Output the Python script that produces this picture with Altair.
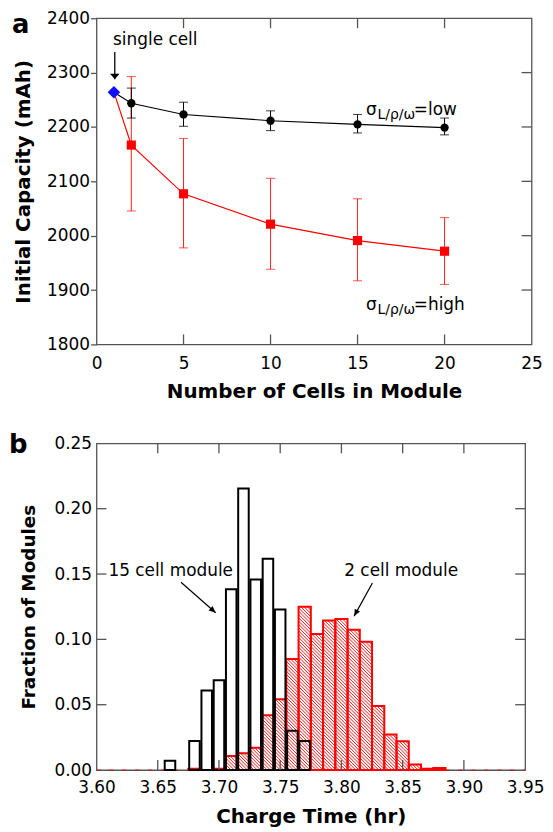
import math
import altair as alt
import numpy as np
import pandas as pd

FONT = "DejaVu Sans"
FRAME = "#555555"
RED = "#ff0000"

# ---------------- panel a : initial capacity vs number of cells ----------------
cells = [2, 5, 10, 15, 20]
low_mean = [2243.6, 2223.0, 2211.5, 2204.8, 2198.8]
low_hi = [2271.5, 2245.5, 2229.7, 2223.0, 2216.4]
low_lo = [2216.4, 2201.2, 2193.3, 2189.0, 2185.5]
high_mean = [2166.7, 2077.0, 2021.2, 1991.0, 1971.5]
high_hi = [2292.7, 2178.8, 2105.5, 2067.9, 2033.3]
high_lo = [2045.5, 1977.6, 1938.2, 1917.0, 1910.3]
single_n = [1]
single_cap = [2264.0]
xa_ticks = [0, 5, 10, 15, 20, 25]
ya_ticks = [1800, 1900, 2000, 2100, 2200, 2300, 2400]

single_text = ["single cell"]
single_text_n = [0.95]
single_text_cap = [2350.0]
single_arrow_n = [1.05]
single_arrow_from = [2338.0]
single_arrow_to = [2288.0]
sigma_n = [15.49, 15.49]
sigma_cap = [2222.6, 1864.0]
sigma_suffix = ["=low", "=high"]

# ---------------- panel b : charge time histograms ----------------
bin_w = 0.01
m15_time = [3.66, 3.68, 3.69, 3.70, 3.71, 3.72, 3.73, 3.74, 3.75, 3.76, 3.77]
m15_frac = [0.0071, 0.0223, 0.0609, 0.0688, 0.1383, 0.2155, 0.1459, 0.1617, 0.1228, 0.0300, 0.0223]
m2_time = [3.68, 3.70, 3.71, 3.72, 3.73, 3.74, 3.75, 3.76, 3.77, 3.78,
           3.79, 3.80, 3.81, 3.82, 3.83, 3.84, 3.85, 3.86, 3.87, 3.88]
m2_frac = [0.0010, 0.0010, 0.0107, 0.0129, 0.0170, 0.0419, 0.0541, 0.0850, 0.1249, 0.1041,
           0.1145, 0.1155, 0.1074, 0.0982, 0.0490, 0.0272, 0.0221, 0.0043, 0.0010, 0.0015]
xb_ticks = [3.60, 3.65, 3.70, 3.75, 3.80, 3.85, 3.90, 3.95]
yb_ticks = [0.00, 0.05, 0.10, 0.15, 0.20, 0.25]

ann_b_text = ["15 cell module", "2 cell module"]
ann_b_x = [3.6097, 3.8023]
ann_b_y = [0.1482, 0.1482]
arrow_b_x0 = [3.669, 3.8253]
arrow_b_y0 = [0.1437, 0.1432]
arrow_b_x1 = [3.6973, 3.8104]
arrow_b_y1 = [0.1204, 0.1178]

panel_letters = ["a", "b"]

WA, HA = 437.5, 328
WB, HB = 431, 328.5
TL = 10  # inward tick length

# ================= panel a =================
sx_a = alt.Scale(domain=[0, 25], nice=False, zero=False)
sy_a = alt.Scale(domain=[1800, 2400], nice=False, zero=False)

ax_x_a = alt.Axis(values=xa_ticks, format="d", ticks=False, domain=False, grid=False,
                  labelPadding=11, labelFlush=False, labelOverlap=False,
                  title="Number of Cells in Module", titlePadding=10)
ax_y_a = alt.Axis(values=ya_ticks, format="d", ticks=True, tickSize=6, tickColor=FRAME,
                  tickWidth=1.3, domain=False, grid=False, labelPadding=1,
                  labelFlush=False, labelOverlap=False,
                  title="Initial Capacity (mAh)", titlePadding=13)

low_df = pd.DataFrame({"n": single_n + cells, "cap": single_cap + low_mean})
high_df = pd.DataFrame({"n": single_n + cells, "cap": single_cap + high_mean})
err_low = pd.DataFrame({"n": cells, "lo": low_lo, "hi": low_hi})
err_high = pd.DataFrame({"n": cells, "lo": high_lo, "hi": high_hi})
single_df = pd.DataFrame({"n": single_n, "cap": single_cap})

XA = lambda f="n": alt.X(f"{f}:Q", scale=sx_a, axis=ax_x_a)
YA = lambda f="cap": alt.Y(f"{f}:Q", scale=sy_a, axis=ax_y_a)

line_high = alt.Chart(high_df).mark_line(color=RED, strokeWidth=1.2).encode(x=XA(), y=YA())
line_low = alt.Chart(low_df).mark_line(color="black", strokeWidth=1.1).encode(x=XA(), y=YA())


def errbars(df, color, width):
    rule = alt.Chart(df).mark_rule(color=color, strokeWidth=width).encode(
        x=XA(), y=YA("lo"), y2=alt.Y2("hi:Q"))
    caps = alt.Chart(df).transform_fold(["lo", "hi"], as_=["end", "val"]).mark_tick(
        color=color, orient="horizontal", size=9, thickness=1.1).encode(x=XA(), y=YA("val"))
    return [rule, caps]


pts_low = alt.Chart(pd.DataFrame({"n": cells, "cap": low_mean})).mark_point(
    shape="circle", filled=True, size=70, color="black", opacity=1).encode(x=XA(), y=YA())
pts_high = alt.Chart(pd.DataFrame({"n": cells, "cap": high_mean})).mark_point(
    shape="square", filled=True, size=85, color=RED, opacity=1).encode(x=XA(), y=YA())
pt_single = alt.Chart(single_df).mark_point(
    shape="diamond", filled=True, size=160, color="#1010ff", opacity=1).encode(x=XA(), y=YA())

# inward ticks panel a
xa_in = pd.DataFrame({"t": xa_ticks[1:-1]})
ya_in = pd.DataFrame({"t": ya_ticks[1:-1]})
ticks_a = [
    alt.Chart(xa_in).mark_rule(color=FRAME, strokeWidth=1.3).encode(
        x=XA("t"), y=alt.value(0), y2=alt.value(TL)),
    alt.Chart(xa_in).mark_rule(color=FRAME, strokeWidth=1.3).encode(
        x=XA("t"), y=alt.value(HA - TL), y2=alt.value(HA)),
    alt.Chart(ya_in).mark_rule(color=FRAME, strokeWidth=1.3).encode(
        y=YA("t"), x=alt.value(WA - TL), x2=alt.value(WA)),
]

# annotations panel a
single_txt = alt.Chart(pd.DataFrame({"n": single_text_n, "cap": single_text_cap, "t": single_text})).mark_text(
    align="left", baseline="alphabetic", fontSize=17, color="black").encode(x=XA(), y=YA(), text="t:N")
arrow_df = pd.DataFrame({"n": single_arrow_n, "a0": single_arrow_from, "a1": single_arrow_to})
single_shaft = alt.Chart(arrow_df).mark_rule(color="black", strokeWidth=1.3).encode(
    x=XA(), y=YA("a0"), y2=alt.Y2("a1:Q"))
single_head = alt.Chart(arrow_df).mark_point(
    shape="M0,0L-1,-1.15L1,-1.15Z", filled=True, size=90, color="black", opacity=1).encode(
    x=XA(), y=YA("a1"))

sig_df = pd.DataFrame({"n": sigma_n, "cap": sigma_cap, "suffix": sigma_suffix})
sig1 = alt.Chart(sig_df).mark_text(text="σ", align="left", baseline="alphabetic", fontSize=17,
                                   color="black").encode(x=XA(), y=YA())
sig2 = alt.Chart(sig_df).mark_text(text="L/ρ/ω", align="left", baseline="alphabetic", fontSize=14,
                                   dx=11.5, dy=4, color="black").encode(x=XA(), y=YA())
sig3 = alt.Chart(sig_df).mark_text(align="left", baseline="alphabetic", fontSize=17, dx=48,
                                   color="black").encode(x=XA(), y=YA(), text="suffix:N")

letter_a = alt.Chart(pd.DataFrame({"l": panel_letters[:1]})).mark_text(
    align="left", baseline="alphabetic", fontSize=26, fontWeight="bold", color="black").encode(
    x=alt.value(-85), y=alt.value(15), text="l:N")

panel_a = alt.layer(
    *errbars(err_high, "#ff2020", 1.0),
    line_high,
    *errbars(err_low, "black", 1.0),
    line_low,
    pts_high, pts_low, pt_single,
    *ticks_a,
    single_txt, single_shaft, single_head,
    sig1, sig2, sig3,
    letter_a,
).properties(width=WA, height=HA)

# ================= panel b =================
sx_b = alt.Scale(domain=[3.60, 3.95], nice=False, zero=False)
sy_b = alt.Scale(domain=[0, 0.25], nice=False, zero=False)

ax_x_b = alt.Axis(values=xb_ticks, format=".2f", ticks=False, domain=False, grid=False,
                  labelPadding=9.5, labelFlush=False, labelOverlap=False,
                  title="Charge Time (hr)", titlePadding=11)
ax_y_b = alt.Axis(values=yb_ticks, format=".2f", ticks=False, domain=False, grid=False,
                  labelPadding=5, labelFlush=False, labelOverlap=False,
                  title="Fraction of Modules", titleFontSize=18.5, titlePadding=16)

XB = lambda f: alt.X(f"{f}:Q", scale=sx_b, axis=ax_x_b)
YB = lambda f: alt.Y(f"{f}:Q", scale=sy_b, axis=ax_y_b)

m2_df = pd.DataFrame({"t": m2_time, "f": m2_frac})
m15_df = pd.DataFrame({"t": m15_time, "f": m15_frac})

# hatch segments derived from the 2-cell histogram bars
px_x = WB / 0.35
px_y = HB / 0.25
step = 3.3
hatch = []
for t, f in zip(m2_time, m2_frac):
    u0 = (t - bin_w / 2 - 3.60) * px_x
    u1 = (t + bin_w / 2 - 3.60) * px_x
    h = f * px_y
    if h < 2:
        continue
    c = math.ceil(u0 / step) * step
    while c < u1 + h:
        ua, ub = max(u0, c - h), min(u1, c)
        if ub - ua > 0.3:
            hatch.append({"xa": 3.60 + ua / px_x, "ya": (c - ua) / px_y,
                          "xb": 3.60 + ub / px_x, "yb": (c - ub) / px_y})
        c += step
hatch_df = pd.DataFrame(hatch)

hatch_layer = alt.Chart(hatch_df).mark_rule(color=RED, strokeWidth=0.9).encode(
    x=XB("xa"), y=YB("ya"), x2=alt.X2("xb:Q"), y2=alt.Y2("yb:Q"))

red_bars = alt.Chart(m2_df).transform_calculate(
    x0=f"datum.t - {bin_w / 2}", x1=f"datum.t + {bin_w / 2}", z="0").mark_rect(
    fillOpacity=0, stroke=RED, strokeWidth=2).encode(
    x=XB("x0"), x2=alt.X2("x1:Q"), y=YB("f"), y2=alt.Y2("z:Q"))

black_bars = alt.Chart(m15_df).transform_calculate(
    x0="datum.t - 0.0043", x1="datum.t + 0.0043", z="0").mark_rect(
    fillOpacity=0, stroke="black", strokeWidth=2).encode(
    x=XB("x0"), x2=alt.X2("x1:Q"), y=YB("f"), y2=alt.Y2("z:Q"))

zero_line = alt.Chart(pd.DataFrame({"z": [yb_ticks[0]]})).mark_rule(
    color=RED, strokeWidth=1.5, strokeDash=[4, 9], opacity=0.5).encode(
    y=YB("z"), x=alt.value(0), x2=alt.value(WB))

xb_in = pd.DataFrame({"t": xb_ticks[1:-1]})
yb_in = pd.DataFrame({"t": yb_ticks[1:-1]})
ticks_b = [
    alt.Chart(xb_in).mark_rule(color=FRAME, strokeWidth=1.3).encode(
        x=XB("t"), y=alt.value(0), y2=alt.value(TL)),
    alt.Chart(xb_in).mark_rule(color=FRAME, strokeWidth=1.3).encode(
        x=XB("t"), y=alt.value(HB - TL), y2=alt.value(HB)),
    alt.Chart(yb_in).mark_rule(color=FRAME, strokeWidth=1.3).encode(
        y=YB("t"), x=alt.value(0), x2=alt.value(TL)),
    alt.Chart(yb_in).mark_rule(color=FRAME, strokeWidth=1.3).encode(
        y=YB("t"), x=alt.value(WB - TL), x2=alt.value(WB)),
]

ann_b = alt.Chart(pd.DataFrame({"x": ann_b_x, "y": ann_b_y, "t": ann_b_text})).mark_text(
    align="left", baseline="alphabetic", fontSize=17, color="black").encode(
    x=XB("x"), y=YB("y"), text="t:N")

angles = []
for x0, y0, x1, y1 in zip(arrow_b_x0, arrow_b_y0, arrow_b_x1, arrow_b_y1):
    dxp = (x1 - x0) * px_x
    dyp = -(y1 - y0) * px_y
    angles.append(math.degrees(math.atan2(-dxp, dyp)) % 360)
arr_df = pd.DataFrame({"x0": arrow_b_x0, "y0": arrow_b_y0, "x1": arrow_b_x1, "y1": arrow_b_y1,
                       "ang": angles})
arr_shaft = alt.Chart(arr_df).mark_rule(color="black", strokeWidth=1.2).encode(
    x=XB("x0"), y=YB("y0"), x2=alt.X2("x1:Q"), y2=alt.Y2("y1:Q"))
arr_head = alt.Chart(arr_df).mark_point(
    shape="M0,0L-0.75,-1.7L0.75,-1.7Z", filled=True, size=64, color="black", opacity=1).encode(
    x=XB("x1"), y=YB("y1"), angle=alt.Angle("ang:Q", scale=None))

letter_b = alt.Chart(pd.DataFrame({"l": panel_letters[1:]})).mark_text(
    align="left", baseline="alphabetic", fontSize=26, fontWeight="bold", color="black").encode(
    x=alt.value(-88), y=alt.value(10), text="l:N")

panel_b = alt.layer(
    hatch_layer, red_bars, zero_line, black_bars, *ticks_b,
    ann_b, arr_shaft, arr_head, letter_b,
).properties(width=WB, height=HB)

chart = alt.vconcat(panel_a, panel_b, spacing=29.5).properties(
    padding={"left": 0, "top": -2, "right": 0, "bottom": 0}
).configure(font=FONT).configure_view(stroke=FRAME, strokeWidth=1.3).configure_axis(
    labelFont=FONT, labelFontSize=17, labelColor="black",
    titleFont=FONT, titleFontSize=20, titleFontWeight="bold", titleColor="black")

chart.save("out.html", embed_options={"renderer": "svg", "actions": False})
